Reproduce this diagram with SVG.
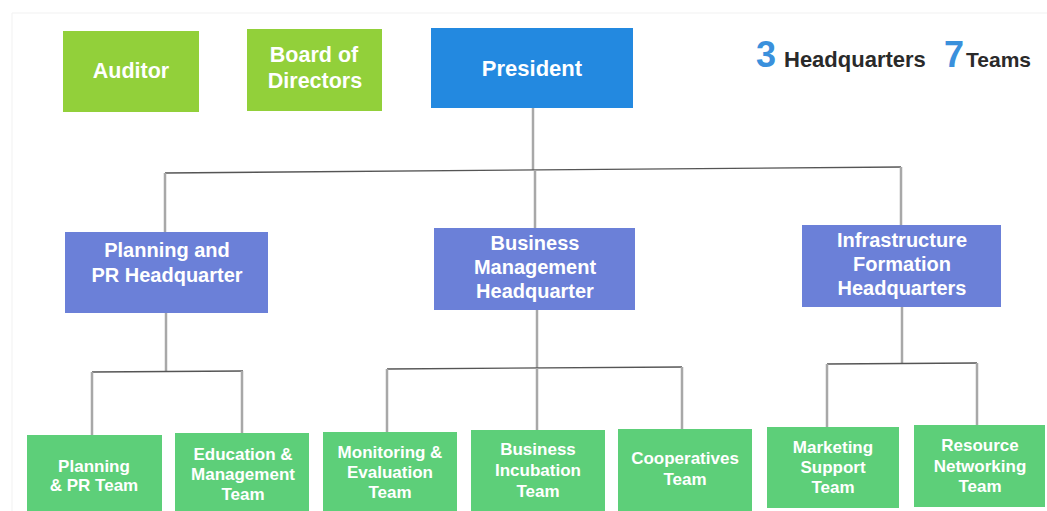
<svg xmlns="http://www.w3.org/2000/svg" width="1047" height="511" viewBox="0 0 1047 511">
<style>
text{font-family:"Liberation Sans",Arial,sans-serif;font-weight:bold;text-anchor:middle;fill:#ffffff}
.lime{fill:#92d03a}
.blue{fill:#2389e0}
.hq{fill:#6b80d8}
.team{fill:#5dcf79}
.t1{font-size:21.5px}
.t2{font-size:20px}
.t3{font-size:17px}
.vl{stroke:#a8a8a8;stroke-width:2.5;fill:none}
.hl{stroke:#555;stroke-width:1.3;fill:none}
.hdr{text-anchor:start;fill:#2a2a2a;font-size:22px}
.num{text-anchor:start;fill:#3a90dc;font-size:36px}
</style>
<rect width="1047" height="511" fill="#ffffff"/>
<path d="M12 511 V13 H1047" stroke="#f1f1f1" stroke-width="1" fill="none"/>

<g id="connectors">
<path class="vl" d="M533 108 V170"/>
<path class="hl" d="M165 173 L901 167"/>
<path class="vl" d="M165 173 V232 M535 170 V228 M901 167 V225"/>
<path class="vl" d="M166 313 V372"/>
<path class="hl" d="M92 372 L243 371"/>
<path class="vl" d="M92 372 V435 M242 371 V433"/>
<path class="vl" d="M537 310 V368"/>
<path class="hl" d="M387 369 L682 367"/>
<path class="vl" d="M387 369 V432 M537 368 V430 M682 367 V429"/>
<path class="vl" d="M902 307 V363"/>
<path class="hl" d="M827 364 L977 363"/>
<path class="vl" d="M827 364 V427 M977 363 V425"/>
</g>

<g id="auditor">
<rect class="lime" x="63" y="31" width="136" height="81"/>
<text class="t1" x="131" y="78">Auditor</text>
</g>
<g id="board">
<rect class="lime" x="247" y="29" width="135" height="82"/>
<text class="t1" x="314" y="62">Board of</text>
<text class="t1" x="315" y="88">Directors</text>
</g>
<g id="president">
<rect class="blue" x="431" y="28" width="202" height="80"/>
<text style="font-size:22px" x="532" y="76">President</text>
</g>
<g id="summary">
<text class="num" x="756" y="67">3</text>
<text class="hdr" x="784" y="67">Headquarters</text>
<text class="num" x="944" y="67">7</text>
<text class="hdr" x="966" y="67" style="font-size:21px">Teams</text>
</g>

<g id="hq-planning">
<rect class="hq" x="65" y="232" width="203" height="81"/>
<text class="t2" x="167" y="257">Planning and</text>
<text class="t2" x="167" y="282">PR Headquarter</text>
</g>
<g id="hq-business">
<rect class="hq" x="434" y="228" width="201" height="82"/>
<text class="t2" x="535" y="250">Business</text>
<text class="t2" x="535" y="274">Management</text>
<text class="t2" x="535" y="298">Headquarter</text>
</g>
<g id="hq-infra">
<rect class="hq" x="802" y="225" width="199" height="82"/>
<text class="t2" x="902" y="247">Infrastructure</text>
<text class="t2" x="902" y="271">Formation</text>
<text class="t2" x="902" y="295">Headquarters</text>
</g>

<g id="team-planning">
<rect class="team" x="27" y="435" width="135" height="80"/>
<text class="t3" x="94" y="472">Planning</text>
<text class="t3" x="94" y="491">&amp; PR Team</text>
</g>
<g id="team-education">
<rect class="team" x="175" y="433" width="134" height="82"/>
<text class="t3" x="243" y="460">Education &amp;</text>
<text class="t3" x="243" y="480">Management</text>
<text class="t3" x="243" y="500">Team</text>
</g>
<g id="team-monitoring">
<rect class="team" x="323" y="432" width="134" height="83"/>
<text class="t3" x="390" y="458">Monitoring &amp;</text>
<text class="t3" x="390" y="478">Evaluation</text>
<text class="t3" x="390" y="498">Team</text>
</g>
<g id="team-incubation">
<rect class="team" x="471" y="430" width="134" height="81"/>
<text class="t3" x="538" y="455">Business</text>
<text class="t3" x="538" y="476">Incubation</text>
<text class="t3" x="538" y="497">Team</text>
</g>
<g id="team-cooperatives">
<rect class="team" x="618" y="429" width="134" height="82"/>
<text class="t3" x="685" y="464">Cooperatives</text>
<text class="t3" x="685" y="485">Team</text>
</g>
<g id="team-marketing">
<rect class="team" x="767" y="427" width="132" height="81"/>
<text class="t3" x="833" y="453">Marketing</text>
<text class="t3" x="833" y="473">Support</text>
<text class="t3" x="833" y="493">Team</text>
</g>
<g id="team-resource">
<rect class="team" x="914" y="425" width="131" height="82"/>
<text class="t3" x="980" y="451">Resource</text>
<text class="t3" x="980" y="472">Networking</text>
<text class="t3" x="980" y="492">Team</text>
</g>
</svg>
